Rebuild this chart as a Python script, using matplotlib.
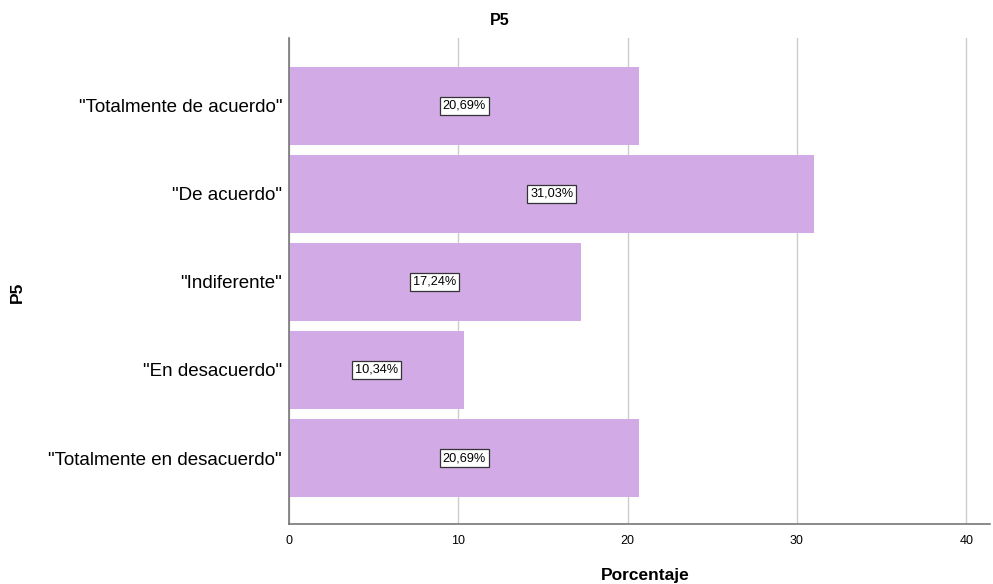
import matplotlib.pyplot as plt

categorias = ['"Totalmente en desacuerdo"', '"En desacuerdo"', '"Indiferente"',
              '"De acuerdo"', '"Totalmente de acuerdo"']
porcentajes = [20.69, 10.34, 17.24, 31.03, 20.69]
etiquetas = ['20,69%', '10,34%', '17,24%', '31,03%', '20,69%']

plt.rcParams['font.family'] = ['Liberation Sans', 'DejaVu Sans']

fig = plt.figure(figsize=(9.93, 5.84), dpi=100)
ax = fig.add_axes([0.291, 0.1027, 0.706, 0.832])

pos = range(len(categorias))
ax.barh(pos, porcentajes, height=0.89, color='#D2AAE6', zorder=2)

for p, v, t in zip(pos, porcentajes, etiquetas):
    ax.text(v / 2, p, t, ha='center', va='center', fontsize=9.2, zorder=3,
            bbox=dict(boxstyle='square,pad=0.22', fc='white', ec='#333333', lw=0.9))

ax.set_xlim(0, 41.4)
ax.set_ylim(-0.75, 4.77)
ax.set_xticks([0, 10, 20, 30, 40])
ax.set_yticks(list(pos))
ax.set_yticklabels(categorias, fontsize=13.5)
ax.tick_params(axis='x', labelsize=9, length=0, pad=8)
ax.tick_params(axis='y', length=0, pad=5)
ax.grid(axis='x', color='#CCCCCC', lw=1, zorder=1)

for s in ['top', 'right']:
    ax.spines[s].set_visible(False)
for s in ['left', 'bottom']:
    ax.spines[s].set_color('#777777')
    ax.spines[s].set_linewidth(1.2)

fig.text(0.5035, 0.965, 'P5', ha='center', va='center', fontsize=11.5,
         fontweight='bold')
fig.text(0.65, 0.015, 'Porcentaje', ha='center', va='center', fontsize=12.5,
         fontweight='bold')
fig.text(0.018, 0.5, 'P5', rotation=90, ha='center', va='center',
         fontsize=12.5, fontweight='bold')

fig.savefig('out.png', dpi=100)
